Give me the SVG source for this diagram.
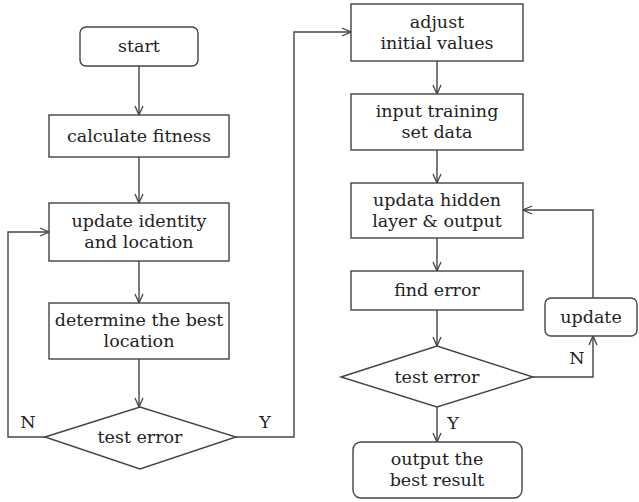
<svg xmlns="http://www.w3.org/2000/svg" width="639" height="502" viewBox="0 0 639 502">
<style>
.b{fill:#fff;stroke:#444;stroke-width:1.4}
.t{font-family:"DejaVu Serif",serif;font-size:17.5px;fill:#222;text-anchor:middle}
.c{fill:none;stroke:#444;stroke-width:1.4}
</style>
<defs>
<marker id="a" viewBox="0 0 10 10" refX="10" refY="5" markerWidth="10" markerHeight="10" markerUnits="userSpaceOnUse" orient="auto">
<path d="M1,1 L10,5 L1,9" fill="none" stroke="#444" stroke-width="1.3"/>
</marker>
</defs>
<g id="connectors">
<path class="c" d="M139,66 V115" marker-end="url(#a)"/>
<path class="c" d="M139,157 V203" marker-end="url(#a)"/>
<path class="c" d="M139,261 V303" marker-end="url(#a)"/>
<path class="c" d="M139,359 V407" marker-end="url(#a)"/>
<path class="c" d="M45,437 H8 V232 H49" marker-end="url(#a)"/>
<path class="c" d="M236,437 H294 V32 H351" marker-end="url(#a)"/>
<path class="c" d="M437,61 V94" marker-end="url(#a)"/>
<path class="c" d="M437,150 V183" marker-end="url(#a)"/>
<path class="c" d="M437,238 V271" marker-end="url(#a)"/>
<path class="c" d="M437,310 V346" marker-end="url(#a)"/>
<path class="c" d="M437,407 V442" marker-end="url(#a)"/>
<path class="c" d="M533,377 H593 V336" marker-end="url(#a)"/>
<path class="c" d="M593,298 V210 H523" marker-end="url(#a)"/>
<text class="t" x="28" y="428">N</text>
<text class="t" x="265" y="428">Y</text>
<text class="t" x="577" y="364">N</text>
<text class="t" x="453" y="429">Y</text>
</g>
<g id="start"><rect class="b" x="80" y="27" width="118" height="39" rx="6"/><text class="t" x="139" y="52">start</text></g>
<g id="calc"><rect class="b" x="49" y="115" width="180" height="42"/><text class="t" x="139" y="141.5">calculate fitness</text></g>
<g id="updateIdentity"><rect class="b" x="49" y="203" width="180" height="58"/><text class="t" x="139" y="227">update identity</text><text class="t" x="139" y="248">and location</text></g>
<g id="determine"><rect class="b" x="49" y="303" width="180" height="56"/><text class="t" x="139" y="326">determine the best</text><text class="t" x="139" y="347">location</text></g>
<g id="test1"><polygon class="b" points="45,437 140,407 236,437 140,469"/><text class="t" x="140" y="442.5">test error</text></g>
<g id="adjust"><rect class="b" x="351" y="4" width="172" height="57"/><text class="t" x="437" y="27.5">adjust</text><text class="t" x="437" y="48.5">initial values</text></g>
<g id="input"><rect class="b" x="351" y="94" width="172" height="56"/><text class="t" x="437" y="117">input training</text><text class="t" x="437" y="138">set data</text></g>
<g id="hidden"><rect class="b" x="351" y="183" width="172" height="55"/><text class="t" x="437" y="205.5">updata hidden</text><text class="t" x="437" y="226.5">layer &amp; output</text></g>
<g id="find"><rect class="b" x="351" y="271" width="172" height="39"/><text class="t" x="437" y="296">find error</text></g>
<g id="test2"><polygon class="b" points="341,377 437,346 533,377 437,407"/><text class="t" x="437" y="382.5">test error</text></g>
<g id="update"><rect class="b" x="545" y="298" width="92" height="38" rx="6"/><text class="t" x="591" y="322.5">update</text></g>
<g id="output"><rect class="b" x="353" y="442" width="169" height="56" rx="8"/><text class="t" x="437" y="465">output the</text><text class="t" x="437" y="486">best result</text></g>
</svg>
